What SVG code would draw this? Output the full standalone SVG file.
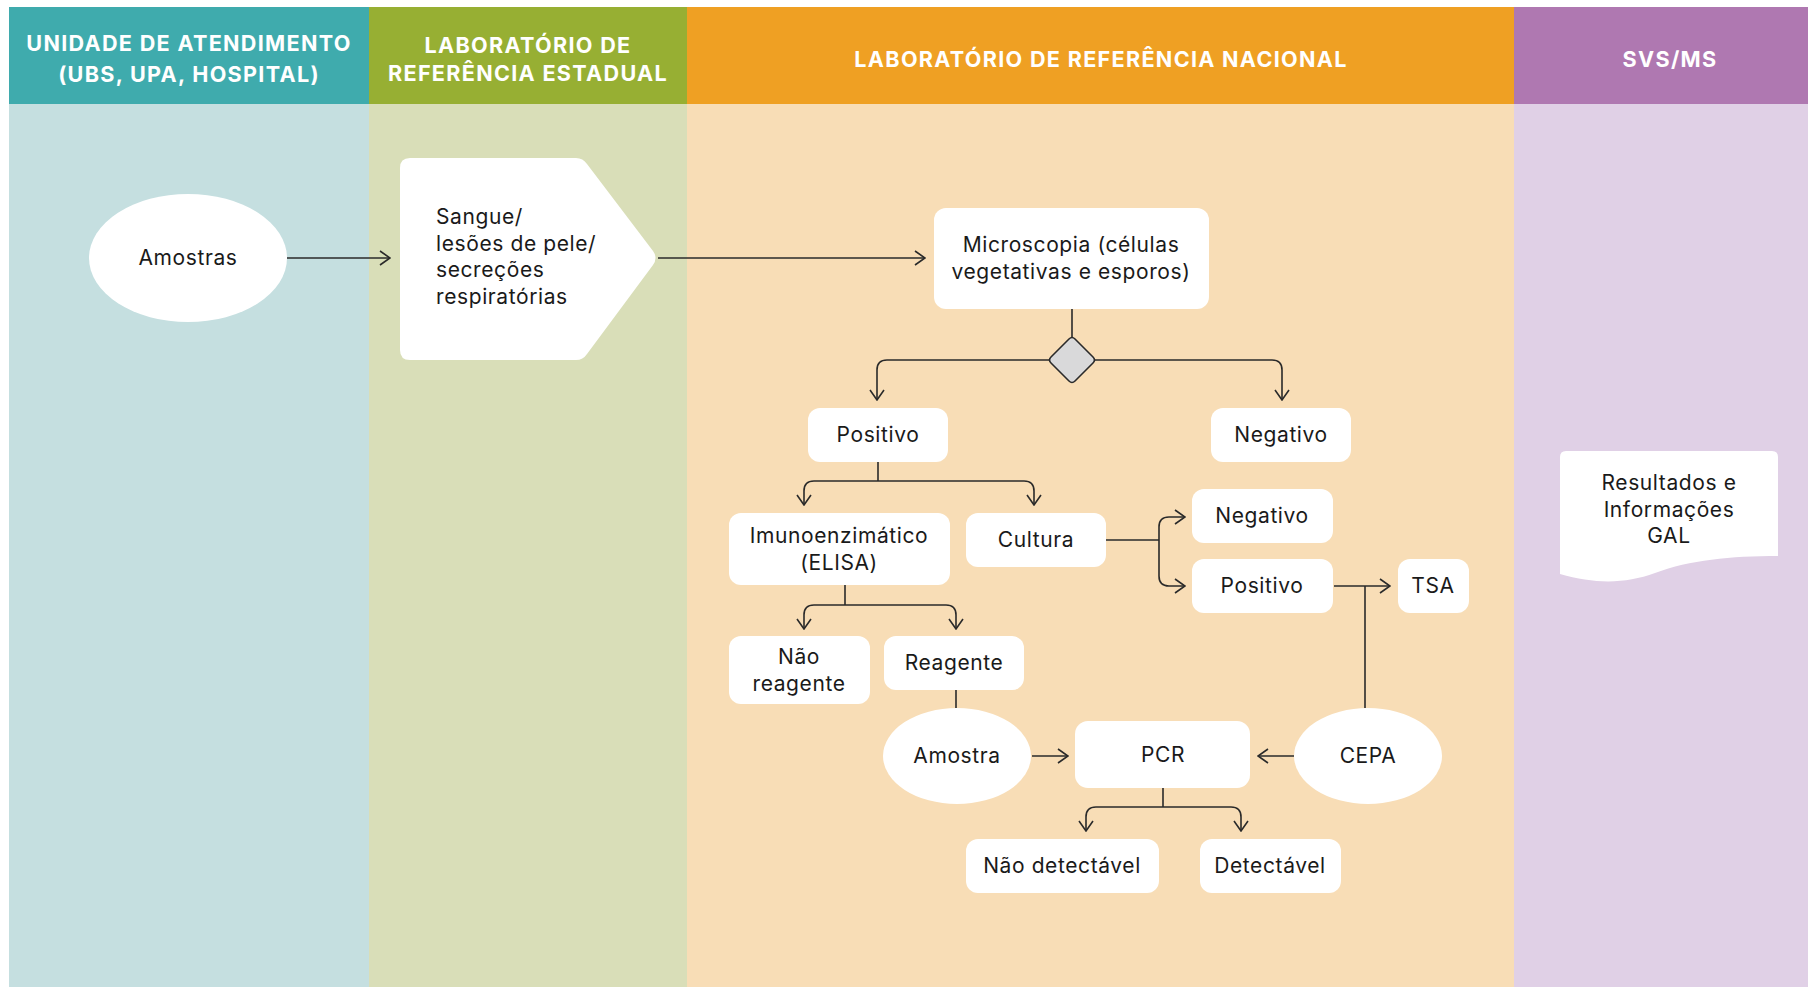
<svg xmlns="http://www.w3.org/2000/svg" width="1808" height="987" viewBox="0 0 1808 987">
  <style>
    .hdr { font-family: Inter, "Liberation Sans", sans-serif; font-weight: 700; font-size: 21.6px; fill: #ffffff; text-anchor: middle; letter-spacing: 1.3px; }
    .lbl { font-family: Inter, "Liberation Sans", sans-serif; font-size: 21px; fill: #1a1a1a; text-anchor: middle; letter-spacing: 0.6px; }
    .lbl-l { text-anchor: start; }
    .node { fill: #ffffff; }
    .edge { fill: none; stroke: #2a2a2a; stroke-width: 1.6; }
    .arr { marker-end: url(#chev); }
  </style>
  <defs>
    <marker id="chev" viewBox="0 0 12 16" markerWidth="12" markerHeight="16" refX="11" refY="8" orient="auto" markerUnits="userSpaceOnUse">
      <path d="M1,1 L11,8 L1,15" fill="none" stroke="#2a2a2a" stroke-width="1.6"/>
    </marker>
  </defs>

  <rect width="1808" height="987" fill="#ffffff"/>

  <!-- swimlane bodies -->
  <g id="lanes">
    <rect x="9" y="104" width="360" height="883" fill="#C5DFE0"/>
    <rect x="369" y="104" width="318" height="883" fill="#D9DEB8"/>
    <rect x="687" y="104" width="827" height="883" fill="#F8DDB6"/>
    <rect x="1514" y="104" width="294" height="883" fill="#E0D0E6"/>
    <!-- headers -->
    <rect x="9" y="7" width="360" height="97" fill="#3FABAD"/>
    <rect x="369" y="7" width="318" height="97" fill="#97AF33"/>
    <rect x="687" y="7" width="827" height="97" fill="#EFA023"/>
    <rect x="1514" y="7" width="294" height="97" fill="#AF78B1"/>
    <text class="hdr" x="189" y="51">UNIDADE DE ATENDIMENTO</text>
    <text class="hdr" x="189" y="82">(UBS, UPA, HOSPITAL)</text>
    <text class="hdr" x="528" y="53">LABORATÓRIO DE</text>
    <text class="hdr" x="528" y="81">REFERÊNCIA ESTADUAL</text>
    <text class="hdr" x="1101" y="67">LABORATÓRIO DE REFERÊNCIA NACIONAL</text>
    <text class="hdr" x="1670" y="67">SVS/MS</text>
  </g>

  <!-- connectors -->
  <g id="connectors">
    <path class="edge arr" d="M287,258 H390"/>
    <path class="edge arr" d="M658,258 H925"/>
    <path class="edge" d="M1072,309 V337"/>
    <path class="edge arr" d="M1049,360 H887 Q877,360 877,370 V400"/>
    <path class="edge arr" d="M1095,360 H1272 Q1282,360 1282,370 V400"/>
    <path class="edge" d="M878,462 V481"/>
    <path class="edge arr" d="M878,481 H814 Q804,481 804,491 V505"/>
    <path class="edge arr" d="M878,481 H1024 Q1034,481 1034,491 V505"/>
    <path class="edge" d="M1106,540 H1159"/>
    <path class="edge arr" d="M1159,540 V527 Q1159,517 1169,517 H1185"/>
    <path class="edge arr" d="M1159,540 V576 Q1159,586 1169,586 H1185"/>
    <path class="edge arr" d="M1334,586 H1390"/>
    <path class="edge" d="M1365,586 V708"/>
    <path class="edge" d="M845,585 V605"/>
    <path class="edge arr" d="M845,605 H814 Q804,605 804,615 V629"/>
    <path class="edge arr" d="M845,605 H946 Q956,605 956,615 V629"/>
    <path class="edge" d="M956,690 V708"/>
    <path class="edge arr" d="M1032,756 H1068"/>
    <path class="edge arr" d="M1294,756 H1258"/>
    <path class="edge" d="M1163,788 V807"/>
    <path class="edge arr" d="M1163,807 H1096 Q1086,807 1086,817 V831"/>
    <path class="edge arr" d="M1163,807 H1231 Q1241,807 1241,817 V831"/>
  </g>

  <!-- nodes -->
  <g id="n-amostras">
    <ellipse class="node" cx="188" cy="258" rx="99" ry="64"/>
    <text class="lbl" x="188" y="265">Amostras</text>
  </g>
  <g id="n-sangue">
    <path class="node" d="M410,158 H576 Q583,158 587,164 L653,251 Q658,258 653,265 L587,354 Q583,360 576,360 H410 Q400,360 400,350 V168 Q400,158 410,158 Z"/>
    <text class="lbl lbl-l" x="436" y="224">Sangue/</text>
    <text class="lbl lbl-l" x="436" y="251">lesões de pele/</text>
    <text class="lbl lbl-l" x="436" y="277">secreções</text>
    <text class="lbl lbl-l" x="436" y="304">respiratórias</text>
  </g>
  <g id="n-microscopia">
    <rect class="node" x="934" y="208" width="275" height="101" rx="12"/>
    <text class="lbl" x="1071" y="252">Microscopia (células</text>
    <text class="lbl" x="1071" y="279">vegetativas e esporos)</text>
  </g>
  <g id="n-decisao">
    <path d="M1069,339 Q1072,336 1075,339 L1093,357 Q1096,360 1093,363 L1075,381 Q1072,384 1069,381 L1051,363 Q1048,360 1051,357 Z" fill="#D9D9DA" stroke="#2a2a2a" stroke-width="1.6"/>
  </g>
  <g id="n-positivo">
    <rect class="node" x="808" y="408" width="140" height="54" rx="12"/>
    <text class="lbl" x="878" y="442">Positivo</text>
  </g>
  <g id="n-negativo">
    <rect class="node" x="1211" y="408" width="140" height="54" rx="12"/>
    <text class="lbl" x="1281" y="442">Negativo</text>
  </g>
  <g id="n-elisa">
    <rect class="node" x="729" y="513" width="221" height="72" rx="12"/>
    <text class="lbl" x="839" y="543">Imunoenzimático</text>
    <text class="lbl" x="839" y="570">(ELISA)</text>
  </g>
  <g id="n-cultura">
    <rect class="node" x="966" y="513" width="140" height="54" rx="12"/>
    <text class="lbl" x="1036" y="547">Cultura</text>
  </g>
  <g id="n-cult-negativo">
    <rect class="node" x="1192" y="489" width="141" height="54" rx="12"/>
    <text class="lbl" x="1262" y="523">Negativo</text>
  </g>
  <g id="n-cult-positivo">
    <rect class="node" x="1192" y="559" width="141" height="54" rx="12"/>
    <text class="lbl" x="1262" y="593">Positivo</text>
  </g>
  <g id="n-tsa">
    <rect class="node" x="1398" y="559" width="71" height="54" rx="12"/>
    <text class="lbl" x="1433" y="593">TSA</text>
  </g>
  <g id="n-nao-reagente">
    <rect class="node" x="729" y="636" width="141" height="68" rx="12"/>
    <text class="lbl" x="799" y="664">Não</text>
    <text class="lbl" x="799" y="691">reagente</text>
  </g>
  <g id="n-reagente">
    <rect class="node" x="884" y="636" width="140" height="54" rx="12"/>
    <text class="lbl" x="954" y="670">Reagente</text>
  </g>
  <g id="n-amostra">
    <ellipse class="node" cx="957" cy="756" rx="74" ry="48"/>
    <text class="lbl" x="957" y="763">Amostra</text>
  </g>
  <g id="n-pcr">
    <rect class="node" x="1075" y="721" width="175" height="67" rx="13"/>
    <text class="lbl" x="1163" y="762">PCR</text>
  </g>
  <g id="n-cepa">
    <ellipse class="node" cx="1368" cy="756" rx="74" ry="48"/>
    <text class="lbl" x="1368" y="763">CEPA</text>
  </g>
  <g id="n-nao-detectavel">
    <rect class="node" x="966" y="839" width="193" height="54" rx="12"/>
    <text class="lbl" x="1062" y="873">Não detectável</text>
  </g>
  <g id="n-detectavel">
    <rect class="node" x="1200" y="839" width="141" height="54" rx="12"/>
    <text class="lbl" x="1270" y="873">Detectável</text>
  </g>
  <g id="n-resultados">
    <path class="node" d="M1566,451 H1772 Q1778,451 1778,457 V556 C1730,556 1690,560 1655,573 C1625,584 1595,584 1560,574 V457 Q1560,451 1566,451 Z"/>
    <text class="lbl" x="1669" y="490">Resultados e</text>
    <text class="lbl" x="1669" y="517">Informações</text>
    <text class="lbl" x="1669" y="543">GAL</text>
  </g>
</svg>
